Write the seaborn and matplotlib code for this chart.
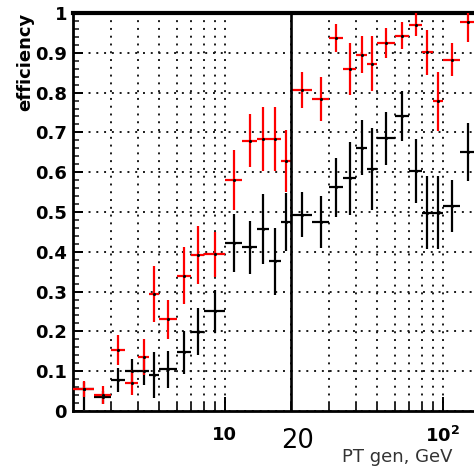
import pandas as pd
import seaborn as sns
import matplotlib.pyplot as plt
from matplotlib.ticker import MultipleLocator, NullFormatter

# bin edges (GeV)
bin_lo = [2, 2.5, 3, 3.5, 4, 4.5, 5, 6, 7, 8, 10, 12, 14, 16, 18,
          20, 25, 30, 35, 40, 45, 50, 60, 70, 80, 90, 100, 120]
bin_hi = [2.5, 3, 3.5, 4, 4.5, 5, 6, 7, 8, 10, 12, 14, 16, 18, 20,
          25, 30, 35, 40, 45, 50, 60, 70, 80, 90, 100, 120, 140]

# red series
red_eff = [0.055, 0.040, 0.153, 0.071, 0.136, 0.294, 0.230, 0.340, 0.392, 0.394,
           0.581, 0.679, 0.683, 0.683, 0.627, 0.807, 0.784, 0.937, 0.859, 0.895,
           0.873, 0.925, 0.943, 0.971, 0.901, 0.778, 0.883, 0.977]
red_err = [0.020, 0.022, 0.038, 0.032, 0.046, 0.070, 0.048, 0.072, 0.072, 0.057,
           0.075, 0.067, 0.080, 0.080, 0.078, 0.046, 0.055, 0.036, 0.065, 0.046,
           0.069, 0.038, 0.034, 0.030, 0.057, 0.075, 0.041, 0.050]

# black series
black_eff = [0.055, 0.034, 0.078, 0.100, 0.101, 0.090, 0.105, 0.147, 0.199, 0.251,
             0.423, 0.411, 0.457, 0.376, 0.475, 0.493, 0.475, 0.562, 0.585, 0.662,
             0.608, 0.685, 0.742, 0.603, 0.498, 0.498, 0.515, 0.650]
black_err_lo = [0.052, 0.017, 0.030, 0.030, 0.036, 0.057, 0.046, 0.055, 0.059, 0.054,
                0.073, 0.066, 0.088, 0.084, 0.073, 0.057, 0.065, 0.074, 0.092, 0.069,
                0.102, 0.067, 0.063, 0.080, 0.092, 0.092, 0.066, 0.073]
black_err_hi = [0.018, 0.015, 0.030, 0.030, 0.036, 0.057, 0.046, 0.055, 0.059, 0.054,
                0.073, 0.066, 0.088, 0.084, 0.073, 0.057, 0.065, 0.074, 0.092, 0.069,
                0.102, 0.067, 0.063, 0.080, 0.092, 0.092, 0.066, 0.073]

y_ticks = [0, 0.1, 0.2, 0.3, 0.4, 0.5, 0.6, 0.7, 0.8, 0.9, 1.0]
y_tick_labels = ["0", "0.1", "0.2", "0.3", "0.4", "0.5", "0.6", "0.7", "0.8", "0.9", "1"]
x_major = [10, 100]
x_major_labels = ["10", r"$\mathbf{10^{2}}$"]
x_minor = [3, 4, 5, 6, 7, 8, 9, 20, 30, 40, 50, 60, 70, 80, 90]

sns.set_theme(style="white")
plt.rcParams['font.family'] = ['DejaVu Sans']
plt.rcParams['mathtext.fontset'] = 'dejavusans'

df = pd.DataFrame({'lo': bin_lo, 'hi': bin_hi, 'red': red_eff, 'red_err': red_err,
                   'black': black_eff, 'b_lo': black_err_lo, 'b_hi': black_err_hi})
df['x'] = (df['lo'] + df['hi']) / 2
xerr = [df['x'] - df['lo'], df['hi'] - df['x']]

fig = plt.figure(figsize=(4.74, 4.67), dpi=100)
ax = fig.add_axes([72.5 / 474, 56 / 467, 436 / 474, 398 / 467])
ax.set_xscale('log')
ax.set_xlim(2, 200)
ax.set_ylim(0, 1)

# dotted grid
dots = (0, (1, 3))
ax.xaxis.grid(True, which='both', linestyle=dots, linewidth=1.4, color='#1a1a1a')
ax.yaxis.grid(True, which='major', linestyle=dots, linewidth=1.4, color='#1a1a1a')
ax.set_axisbelow(True)

# error crosses
ax.errorbar(df['x'], df['black'], yerr=[df['b_lo'], df['b_hi']], xerr=xerr,
            fmt='none', ecolor='black', elinewidth=1.6, capsize=0, zorder=2)
ax.errorbar(df['x'], df['red'], yerr=df['red_err'], xerr=xerr,
            fmt='none', ecolor='#ff0000', elinewidth=1.6, capsize=0, zorder=3)

pts = pd.concat([df[['x', 'black']].rename(columns={'black': 'eff'}),
                 df[['x', 'red']].rename(columns={'red': 'eff'})])
sns.scatterplot(data=pts, x='x', y='eff', color='black', s=5, linewidth=0,
                legend=False, ax=ax, zorder=4)

ax.axvline(20, color='black', lw=1.9, zorder=5)

# axes styling
for side in ['left', 'bottom', 'top', 'right']:
    ax.spines[side].set_color('black')
ax.spines['left'].set_linewidth(2)
ax.spines['bottom'].set_linewidth(2)
ax.spines['top'].set_linewidth(3)

ax.set_yticks(y_ticks, y_tick_labels, fontweight='bold', fontsize=13)
ax.yaxis.set_minor_locator(MultipleLocator(0.02))
ax.set_xticks(x_major, x_major_labels, fontweight='bold', fontsize=13)
ax.set_xticks(x_minor, minor=True)
ax.xaxis.set_minor_formatter(NullFormatter())

ax.tick_params(axis='y', which='major', direction='in', length=7, width=1.4,
               left=True, right=False, pad=4, colors='black')
ax.tick_params(axis='y', which='minor', direction='in', length=4, width=1.2,
               left=True, right=False)
ax.tick_params(axis='x', which='major', direction='in', length=10, width=1.4,
               bottom=True, top=False, pad=11, colors='black')
ax.tick_params(axis='x', which='minor', direction='in', length=5.5, width=1.4,
               bottom=True, top=False)
ax.set_xlabel('')
ax.set_ylabel('')

fig.text(25 / 474, 1 - 13 / 467, 'efficiency', rotation=90, ha='center', va='top',
         fontweight='bold', fontsize=13, color='black')
fig.text(298 / 474, 1 - 441 / 467, '20', ha='center', va='center',
         fontsize=18.5, color='black')
fig.text(342 / 474, 1 - 462 / 467, 'PT gen, GeV', ha='left', va='baseline',
         fontsize=13, color='#333333')

fig.savefig('out.png', dpi=100)
